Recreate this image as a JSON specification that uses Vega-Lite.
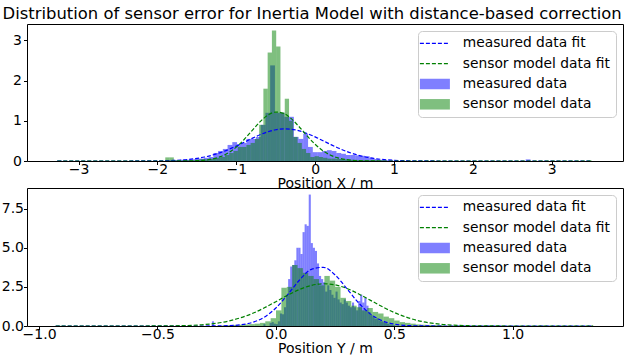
{
  "$schema": "https://vega.github.io/schema/vega-lite/v6.json",
  "padding": {"left": 0, "top": 6, "right": 5, "bottom": 0},
  "title": {"text": "Distribution of sensor error for Inertia Model with distance-based correction", "font": "DejaVu Sans", "fontSize": 16.4, "fontWeight": "normal", "color": "black", "anchor": "middle", "offset": 1},
  "config": {
    "font": "DejaVu Sans",
    "view": {"stroke": "black", "strokeWidth": 1, "fill": "white"},
    "axis": {"labelFont": "DejaVu Sans", "labelFontSize": 14, "labelColor": "black", "titleFont": "DejaVu Sans", "titleFontSize": 14, "titleFontWeight": "normal", "titleColor": "black", "tickColor": "black", "tickSize": 3.5, "grid": false, "domain": false, "labelFlush": false, "labelOverlap": false},
    "legend": {"orient": "top-right", "offset": 7, "title": null, "labelFont": "DejaVu Sans", "labelFontSize": 13.8, "labelColor": "black", "fillColor": "rgba(255,255,255,0.8)", "strokeColor": "#cccccc", "cornerRadius": 4, "padding": 5.5, "rowPadding": 5.3, "symbolSize": 100, "symbolOffset": 4.5, "labelOffset": 21, "labelLimit": 260, "symbolStrokeWidth": 1.3}
  },
  "datasets": {
    "topHist": [
      {"s": "measured data", "v": -3.24, "d": 0.01}, {"s": "measured data", "v": -1.86, "d": 0.02}, {"s": "measured data", "v": -1.8, "d": 0.02}, {"s": "measured data", "v": -1.74, "d": 0.02}, {"s": "measured data", "v": -1.68, "d": 0.03}, {"s": "measured data", "v": -1.62, "d": 0.03}, {"s": "measured data", "v": -1.56, "d": 0.04}, {"s": "measured data", "v": -1.5, "d": 0.05}, {"s": "measured data", "v": -1.44, "d": 0.06}, {"s": "measured data", "v": -1.38, "d": 0.08}, {"s": "measured data", "v": -1.32, "d": 0.1}, {"s": "measured data", "v": -1.26, "d": 0.2}, {"s": "measured data", "v": -1.2, "d": 0.25}, {"s": "measured data", "v": -1.14, "d": 0.3}, {"s": "measured data", "v": -1.08, "d": 0.4}, {"s": "measured data", "v": -1.02, "d": 0.47}, {"s": "measured data", "v": -0.96, "d": 0.42}, {"s": "measured data", "v": -0.9, "d": 0.45}, {"s": "measured data", "v": -0.84, "d": 0.55}, {"s": "measured data", "v": -0.78, "d": 0.55}, {"s": "measured data", "v": -0.72, "d": 0.6}, {"s": "measured data", "v": -0.66, "d": 0.9}, {"s": "measured data", "v": -0.6, "d": 1.2}, {"s": "measured data", "v": -0.54, "d": 2.38}, {"s": "measured data", "v": -0.48, "d": 1.2}, {"s": "measured data", "v": -0.42, "d": 1.2}, {"s": "measured data", "v": -0.36, "d": 1.1}, {"s": "measured data", "v": -0.3, "d": 1.1}, {"s": "measured data", "v": -0.24, "d": 0.6}, {"s": "measured data", "v": -0.18, "d": 0.55}, {"s": "measured data", "v": -0.12, "d": 0.68}, {"s": "measured data", "v": -0.06, "d": 0.35}, {"s": "measured data", "v": 0.0, "d": 0.22}, {"s": "measured data", "v": 0.06, "d": 0.22}, {"s": "measured data", "v": 0.12, "d": 0.25}, {"s": "measured data", "v": 0.18, "d": 0.27}, {"s": "measured data", "v": 0.24, "d": 0.25}, {"s": "measured data", "v": 0.3, "d": 0.2}, {"s": "measured data", "v": 0.36, "d": 0.18}, {"s": "measured data", "v": 0.42, "d": 0.15}, {"s": "measured data", "v": 0.48, "d": 0.15}, {"s": "measured data", "v": 0.54, "d": 0.14}, {"s": "measured data", "v": 0.6, "d": 0.13}, {"s": "measured data", "v": 0.66, "d": 0.12}, {"s": "measured data", "v": 0.72, "d": 0.08}, {"s": "measured data", "v": 0.78, "d": 0.05}, {"s": "measured data", "v": 0.84, "d": 0.03}, {"s": "measured data", "v": 0.9, "d": 0.02}, {"s": "measured data", "v": 0.96, "d": 0.02}, {"s": "measured data", "v": 2.7, "d": 0.04},
      {"s": "sensor model data", "v": -1.873, "d": 0.09}, {"s": "sensor model data", "v": -1.819, "d": 0.09}, {"s": "sensor model data", "v": -1.765, "d": 0.02}, {"s": "sensor model data", "v": -1.657, "d": 0.02}, {"s": "sensor model data", "v": -1.603, "d": 0.02}, {"s": "sensor model data", "v": -1.548, "d": 0.02}, {"s": "sensor model data", "v": -1.494, "d": 0.03}, {"s": "sensor model data", "v": -1.44, "d": 0.04}, {"s": "sensor model data", "v": -1.386, "d": 0.04}, {"s": "sensor model data", "v": -1.332, "d": 0.05}, {"s": "sensor model data", "v": -1.278, "d": 0.06}, {"s": "sensor model data", "v": -1.224, "d": 0.08}, {"s": "sensor model data", "v": -1.17, "d": 0.1}, {"s": "sensor model data", "v": -1.116, "d": 0.15}, {"s": "sensor model data", "v": -1.062, "d": 0.2}, {"s": "sensor model data", "v": -1.008, "d": 0.25}, {"s": "sensor model data", "v": -0.953, "d": 0.35}, {"s": "sensor model data", "v": -0.899, "d": 0.35}, {"s": "sensor model data", "v": -0.845, "d": 0.4}, {"s": "sensor model data", "v": -0.791, "d": 0.45}, {"s": "sensor model data", "v": -0.737, "d": 0.55}, {"s": "sensor model data", "v": -0.683, "d": 0.9}, {"s": "sensor model data", "v": -0.629, "d": 1.8}, {"s": "sensor model data", "v": -0.575, "d": 2.7}, {"s": "sensor model data", "v": -0.521, "d": 3.25}, {"s": "sensor model data", "v": -0.467, "d": 2.85}, {"s": "sensor model data", "v": -0.413, "d": 1.2}, {"s": "sensor model data", "v": -0.358, "d": 1.55}, {"s": "sensor model data", "v": -0.304, "d": 1.0}, {"s": "sensor model data", "v": -0.25, "d": 0.6}, {"s": "sensor model data", "v": -0.196, "d": 0.45}, {"s": "sensor model data", "v": -0.142, "d": 0.3}, {"s": "sensor model data", "v": -0.088, "d": 0.2}, {"s": "sensor model data", "v": -0.034, "d": 0.1}, {"s": "sensor model data", "v": 0.02, "d": 0.12}, {"s": "sensor model data", "v": 0.074, "d": 0.1}, {"s": "sensor model data", "v": 0.128, "d": 0.08}, {"s": "sensor model data", "v": 0.182, "d": 0.06}, {"s": "sensor model data", "v": 0.236, "d": 0.06}, {"s": "sensor model data", "v": 0.291, "d": 0.05}, {"s": "sensor model data", "v": 0.345, "d": 0.05}, {"s": "sensor model data", "v": 0.399, "d": 0.04}, {"s": "sensor model data", "v": 0.453, "d": 0.03}, {"s": "sensor model data", "v": 0.507, "d": 0.03}, {"s": "sensor model data", "v": 0.561, "d": 0.02}, {"s": "sensor model data", "v": 0.615, "d": 0.02}, {"s": "sensor model data", "v": 0.669, "d": 0.02}, {"s": "sensor model data", "v": 0.723, "d": 0.02}, {"s": "sensor model data", "v": 0.777, "d": 0.02}, {"s": "sensor model data", "v": 0.831, "d": 0.02}, {"s": "sensor model data", "v": 3.483, "d": 0.01}
    ],
    "topFit": [
      {"s": "measured data fit", "v": -3.27, "d": 0}, {"s": "measured data fit", "v": -2.5, "d": 0.0001}, {"s": "measured data fit", "v": -2.0, "d": 0.0042}, {"s": "measured data fit", "v": -1.8, "d": 0.0142}, {"s": "measured data fit", "v": -1.6, "d": 0.0407}, {"s": "measured data fit", "v": -1.4, "d": 0.0999}, {"s": "measured data fit", "v": -1.2, "d": 0.2085}, {"s": "measured data fit", "v": -1.0, "d": 0.3709}, {"s": "measured data fit", "v": -0.9, "d": 0.4658}, {"s": "measured data fit", "v": -0.8, "d": 0.5622}, {"s": "measured data fit", "v": -0.7, "d": 0.6518}, {"s": "measured data fit", "v": -0.6, "d": 0.7262}, {"s": "measured data fit", "v": -0.5, "d": 0.7773}, {"s": "measured data fit", "v": -0.4, "d": 0.7994}, {"s": "measured data fit", "v": -0.3, "d": 0.7898}, {"s": "measured data fit", "v": -0.2, "d": 0.7499}, {"s": "measured data fit", "v": -0.1, "d": 0.6839}, {"s": "measured data fit", "v": 0.0, "d": 0.5994}, {"s": "measured data fit", "v": 0.1, "d": 0.5047}, {"s": "measured data fit", "v": 0.2, "d": 0.4082}, {"s": "measured data fit", "v": 0.3, "d": 0.3173}, {"s": "measured data fit", "v": 0.4, "d": 0.237}, {"s": "measured data fit", "v": 0.5, "d": 0.17}, {"s": "measured data fit", "v": 0.6, "d": 0.1172}, {"s": "measured data fit", "v": 0.8, "d": 0.0494}, {"s": "measured data fit", "v": 1.0, "d": 0.0177}, {"s": "measured data fit", "v": 1.2, "d": 0.0054}, {"s": "measured data fit", "v": 1.5, "d": 0.0007}, {"s": "measured data fit", "v": 2.0, "d": 0}, {"s": "measured data fit", "v": 3.51, "d": 0},
      {"s": "sensor model data fit", "v": -3.27, "d": 0}, {"s": "sensor model data fit", "v": -2.0, "d": 0}, {"s": "sensor model data fit", "v": -1.8, "d": 0.0004}, {"s": "sensor model data fit", "v": -1.6, "d": 0.0035}, {"s": "sensor model data fit", "v": -1.4, "d": 0.0233}, {"s": "sensor model data fit", "v": -1.2, "d": 0.1081}, {"s": "sensor model data fit", "v": -1.1, "d": 0.2023}, {"s": "sensor model data fit", "v": -1.0, "d": 0.3447}, {"s": "sensor model data fit", "v": -0.9, "d": 0.5349}, {"s": "sensor model data fit", "v": -0.8, "d": 0.7559}, {"s": "sensor model data fit", "v": -0.7, "d": 0.973}, {"s": "sensor model data fit", "v": -0.6, "d": 1.1406}, {"s": "sensor model data fit", "v": -0.5, "d": 1.2177}, {"s": "sensor model data fit", "v": -0.4, "d": 1.184}, {"s": "sensor model data fit", "v": -0.3, "d": 1.0485}, {"s": "sensor model data fit", "v": -0.2, "d": 0.8457}, {"s": "sensor model data fit", "v": -0.1, "d": 0.6211}, {"s": "sensor model data fit", "v": 0.0, "d": 0.4155}, {"s": "sensor model data fit", "v": 0.1, "d": 0.2532}, {"s": "sensor model data fit", "v": 0.2, "d": 0.1404}, {"s": "sensor model data fit", "v": 0.3, "d": 0.071}, {"s": "sensor model data fit", "v": 0.4, "d": 0.0327}, {"s": "sensor model data fit", "v": 0.6, "d": 0.0052}, {"s": "sensor model data fit", "v": 0.8, "d": 0.0006}, {"s": "sensor model data fit", "v": 1.0, "d": 0}, {"s": "sensor model data fit", "v": 3.51, "d": 0}
    ],
    "botHist": [
      {"s": "measured data", "v": -0.2657, "d": 0.3}, {"s": "measured data", "v": -0.0482, "d": 0.12}, {"s": "measured data", "v": -0.0221, "d": 0.2}, {"s": "measured data", "v": -0.0134, "d": 0.25}, {"s": "measured data", "v": -0.0047, "d": 0.15}, {"s": "measured data", "v": 0.004, "d": 0.12}, {"s": "measured data", "v": 0.0127, "d": 0.3}, {"s": "measured data", "v": 0.0214, "d": 0.8}, {"s": "measured data", "v": 0.0301, "d": 0.75}, {"s": "measured data", "v": 0.0388, "d": 1.2}, {"s": "measured data", "v": 0.0475, "d": 2.0}, {"s": "measured data", "v": 0.0562, "d": 3.0}, {"s": "measured data", "v": 0.0649, "d": 3.8}, {"s": "measured data", "v": 0.0736, "d": 3.9}, {"s": "measured data", "v": 0.0823, "d": 4.2}, {"s": "measured data", "v": 0.091, "d": 5.0}, {"s": "measured data", "v": 0.0997, "d": 5.0}, {"s": "measured data", "v": 0.1084, "d": 4.6}, {"s": "measured data", "v": 0.1171, "d": 6.0}, {"s": "measured data", "v": 0.1258, "d": 6.5}, {"s": "measured data", "v": 0.1345, "d": 6.4}, {"s": "measured data", "v": 0.1432, "d": 8.4}, {"s": "measured data", "v": 0.1519, "d": 5.3}, {"s": "measured data", "v": 0.1606, "d": 5.0}, {"s": "measured data", "v": 0.1693, "d": 4.8}, {"s": "measured data", "v": 0.178, "d": 4.0}, {"s": "measured data", "v": 0.1867, "d": 3.2}, {"s": "measured data", "v": 0.1954, "d": 3.0}, {"s": "measured data", "v": 0.2041, "d": 2.8}, {"s": "measured data", "v": 0.2128, "d": 2.2}, {"s": "measured data", "v": 0.2215, "d": 2.6}, {"s": "measured data", "v": 0.2302, "d": 2.3}, {"s": "measured data", "v": 0.2389, "d": 2.0}, {"s": "measured data", "v": 0.2476, "d": 1.8}, {"s": "measured data", "v": 0.2563, "d": 2.2}, {"s": "measured data", "v": 0.265, "d": 1.7}, {"s": "measured data", "v": 0.2737, "d": 1.5}, {"s": "measured data", "v": 0.2824, "d": 1.4}, {"s": "measured data", "v": 0.2911, "d": 1.7}, {"s": "measured data", "v": 0.2998, "d": 1.5}, {"s": "measured data", "v": 0.3085, "d": 1.3}, {"s": "measured data", "v": 0.3172, "d": 1.2}, {"s": "measured data", "v": 0.3259, "d": 1.5}, {"s": "measured data", "v": 0.3346, "d": 1.2}, {"s": "measured data", "v": 0.3433, "d": 1.0}, {"s": "measured data", "v": 0.352, "d": 1.6}, {"s": "measured data", "v": 0.3607, "d": 2.0}, {"s": "measured data", "v": 0.3694, "d": 1.5}, {"s": "measured data", "v": 0.3781, "d": 1.8}, {"s": "measured data", "v": 0.3868, "d": 1.3}, {"s": "measured data", "v": 0.3955, "d": 0.9}, {"s": "measured data", "v": 0.4042, "d": 0.7}, {"s": "measured data", "v": 0.4129, "d": 0.6}, {"s": "measured data", "v": 0.4216, "d": 0.45}, {"s": "measured data", "v": 0.4303, "d": 0.5}, {"s": "measured data", "v": 0.439, "d": 0.35}, {"s": "measured data", "v": 0.4477, "d": 0.3}, {"s": "measured data", "v": 0.4564, "d": 0.25}, {"s": "measured data", "v": 0.4651, "d": 0.2}, {"s": "measured data", "v": 0.4738, "d": 0.15}, {"s": "measured data", "v": 0.4825, "d": 0.1}, {"s": "measured data", "v": 0.4912, "d": 0.08}, {"s": "measured data", "v": 0.4999, "d": 0.05}, {"s": "measured data", "v": 0.5608, "d": 0.03}, {"s": "measured data", "v": 0.5956, "d": 0.03},
      {"s": "sensor model data", "v": -0.9074, "d": 0.02}, {"s": "sensor model data", "v": -0.215, "d": 0.04}, {"s": "sensor model data", "v": -0.1923, "d": 0.05}, {"s": "sensor model data", "v": -0.1696, "d": 0.07}, {"s": "sensor model data", "v": -0.1469, "d": 0.08}, {"s": "sensor model data", "v": -0.1242, "d": 0.1}, {"s": "sensor model data", "v": -0.1015, "d": 0.12}, {"s": "sensor model data", "v": -0.0788, "d": 0.15}, {"s": "sensor model data", "v": -0.0561, "d": 0.2}, {"s": "sensor model data", "v": -0.0334, "d": 0.3}, {"s": "sensor model data", "v": -0.0107, "d": 0.5}, {"s": "sensor model data", "v": 0.012, "d": 1.0}, {"s": "sensor model data", "v": 0.0347, "d": 2.45}, {"s": "sensor model data", "v": 0.0574, "d": 2.5}, {"s": "sensor model data", "v": 0.0801, "d": 3.9}, {"s": "sensor model data", "v": 0.1028, "d": 3.7}, {"s": "sensor model data", "v": 0.1255, "d": 3.4}, {"s": "sensor model data", "v": 0.1482, "d": 3.2}, {"s": "sensor model data", "v": 0.1709, "d": 3.0}, {"s": "sensor model data", "v": 0.1936, "d": 2.6}, {"s": "sensor model data", "v": 0.2163, "d": 3.2}, {"s": "sensor model data", "v": 0.239, "d": 2.9}, {"s": "sensor model data", "v": 0.2617, "d": 2.5}, {"s": "sensor model data", "v": 0.2844, "d": 1.8}, {"s": "sensor model data", "v": 0.3071, "d": 1.6}, {"s": "sensor model data", "v": 0.3298, "d": 1.3}, {"s": "sensor model data", "v": 0.3525, "d": 1.2}, {"s": "sensor model data", "v": 0.3752, "d": 1.0}, {"s": "sensor model data", "v": 0.3979, "d": 1.15}, {"s": "sensor model data", "v": 0.4206, "d": 0.9}, {"s": "sensor model data", "v": 0.4433, "d": 0.8}, {"s": "sensor model data", "v": 0.466, "d": 0.6}, {"s": "sensor model data", "v": 0.4887, "d": 0.5}, {"s": "sensor model data", "v": 0.5114, "d": 0.35}, {"s": "sensor model data", "v": 0.5341, "d": 0.25}, {"s": "sensor model data", "v": 0.5568, "d": 0.2}, {"s": "sensor model data", "v": 0.5795, "d": 0.15}, {"s": "sensor model data", "v": 0.6022, "d": 0.1}, {"s": "sensor model data", "v": 0.6249, "d": 0.08}, {"s": "sensor model data", "v": 0.6476, "d": 0.07}, {"s": "sensor model data", "v": 0.6703, "d": 0.06}, {"s": "sensor model data", "v": 0.693, "d": 0.06}, {"s": "sensor model data", "v": 0.784, "d": 0.02}, {"s": "sensor model data", "v": 0.897, "d": 0.02}, {"s": "sensor model data", "v": 1.124, "d": 0.02}, {"s": "sensor model data", "v": 1.329, "d": 0.02}
    ],
    "botFit": [
      {"s": "measured data fit", "v": -0.93, "d": 0}, {"s": "measured data fit", "v": -0.4, "d": 0}, {"s": "measured data fit", "v": -0.3, "d": 0.0011}, {"s": "measured data fit", "v": -0.2, "d": 0.022}, {"s": "measured data fit", "v": -0.15, "d": 0.0767}, {"s": "measured data fit", "v": -0.1, "d": 0.2253}, {"s": "measured data fit", "v": -0.05, "d": 0.5557}, {"s": "measured data fit", "v": 0.0, "d": 1.1518}, {"s": "measured data fit", "v": 0.05, "d": 2.0076}, {"s": "measured data fit", "v": 0.1, "d": 2.9412}, {"s": "measured data fit", "v": 0.15, "d": 3.6228}, {"s": "measured data fit", "v": 0.2, "d": 3.7506}, {"s": "measured data fit", "v": 0.25, "d": 3.2644}, {"s": "measured data fit", "v": 0.3, "d": 2.3882}, {"s": "measured data fit", "v": 0.35, "d": 1.4689}, {"s": "measured data fit", "v": 0.4, "d": 0.7594}, {"s": "measured data fit", "v": 0.45, "d": 0.33}, {"s": "measured data fit", "v": 0.5, "d": 0.1206}, {"s": "measured data fit", "v": 0.55, "d": 0.037}, {"s": "measured data fit", "v": 0.6, "d": 0.0096}, {"s": "measured data fit", "v": 0.7, "d": 0.0004}, {"s": "measured data fit", "v": 0.8, "d": 0}, {"s": "measured data fit", "v": 1.34, "d": 0},
      {"s": "sensor model data fit", "v": -0.93, "d": 0}, {"s": "sensor model data fit", "v": -0.6, "d": 0.0005}, {"s": "sensor model data fit", "v": -0.5, "d": 0.0039}, {"s": "sensor model data fit", "v": -0.4, "d": 0.0219}, {"s": "sensor model data fit", "v": -0.3, "d": 0.0945}, {"s": "sensor model data fit", "v": -0.2, "d": 0.3123}, {"s": "sensor model data fit", "v": -0.1, "d": 0.7947}, {"s": "sensor model data fit", "v": 0.0, "d": 1.5539}, {"s": "sensor model data fit", "v": 0.05, "d": 1.9686}, {"s": "sensor model data fit", "v": 0.1, "d": 2.3356}, {"s": "sensor model data fit", "v": 0.15, "d": 2.5947}, {"s": "sensor model data fit", "v": 0.2, "d": 2.6997}, {"s": "sensor model data fit", "v": 0.25, "d": 2.629}, {"s": "sensor model data fit", "v": 0.3, "d": 2.3979}, {"s": "sensor model data fit", "v": 0.35, "d": 2.0476}, {"s": "sensor model data fit", "v": 0.4, "d": 1.6376}, {"s": "sensor model data fit", "v": 0.5, "d": 0.8599}, {"s": "sensor model data fit", "v": 0.6, "d": 0.347}, {"s": "sensor model data fit", "v": 0.7, "d": 0.1077}, {"s": "sensor model data fit", "v": 0.8, "d": 0.0257}, {"s": "sensor model data fit", "v": 0.9, "d": 0.0047}, {"s": "sensor model data fit", "v": 1.0, "d": 0.0007}, {"s": "sensor model data fit", "v": 1.34, "d": 0}
    ]
  },
  "bounds": "flush",
  "spacing": 27,
  "resolve": {"scale": {"x": "independent", "y": "independent", "color": "independent"}, "legend": {"color": "independent"}},
  "vconcat": [
    {
      "width": 596,
      "height": 137,
      "encoding": {
        "x": {"field": "v", "type": "quantitative", "scale": {"domain": [-3.59, 3.84], "nice": false, "zero": false}, "axis": {"title": "Position X / m", "values": [-3, -2, -1, 0, 1, 2, 3], "format": "d", "labelPadding": -2, "titlePadding": 0}},
        "y": {"field": "d", "type": "quantitative", "scale": {"domain": [0, 3.41], "nice": false}, "axis": {"title": null, "values": [0, 1, 2, 3], "format": "d", "labelPadding": 2}},
        "color": {"field": "s", "type": "nominal", "scale": {"domain": ["measured data fit", "sensor model data fit", "measured data", "sensor model data"], "range": ["#0000ff", "#008000", "#0000ff", "#008000"]},
          "legend": {"symbolType": "square", "encode": {"symbols": {"update": {
            "shape": {"signal": "indexof(datum.value, 'fit') >= 0 ? 'M-3,0H3' : 'M-3,-1.05H3V1.05H-3Z'"},
            "fill": {"signal": "indexof(datum.value, 'fit') >= 0 ? 'transparent' : (indexof(datum.value, 'measured') >= 0 ? '#0000ff' : '#008000')"},
            "fillOpacity": {"signal": "indexof(datum.value, 'fit') >= 0 ? 0 : 0.5"},
            "stroke": {"signal": "indexof(datum.value, 'measured') >= 0 ? '#0000ff' : '#008000'"},
            "strokeOpacity": {"signal": "indexof(datum.value, 'fit') >= 0 ? 1 : 0"},
            "strokeDash": {"signal": "indexof(datum.value, 'fit') >= 0 ? [4, 2] : [1, 0]"},
            "opacity": {"value": 1}
          }}}}}
      },
      "layer": [
        {
          "data": {"name": "topHist"},
          "transform": [{"filter": "datum.s === 'measured data'"}],
          "mark": {"type": "bar", "orient": "vertical", "size": 4.8, "opacity": 0.5, "strokeWidth": 0, "clip": true}
        },
        {
          "data": {"name": "topHist"},
          "transform": [{"filter": "datum.s === 'sensor model data'"}],
          "mark": {"type": "bar", "orient": "vertical", "size": 4.3, "opacity": 0.5, "strokeWidth": 0, "clip": true}
        },
        {
          "data": {"name": "topFit"},
          "mark": {"type": "line", "strokeDash": [4, 2], "strokeWidth": 1.2, "interpolate": "monotone", "clip": true}
        }
      ]
    },
    {
      "width": 596,
      "height": 138,
      "encoding": {
        "x": {"field": "v", "type": "quantitative", "scale": {"domain": [-1.03, 1.445], "nice": false, "zero": false}, "axis": {"title": "Position Y / m", "values": [-1, -0.5, 0, 0.5, 1], "format": ".1f", "labelPadding": -2, "titlePadding": 0}},
        "y": {"field": "d", "type": "quantitative", "scale": {"domain": [0, 8.82], "nice": false}, "axis": {"title": null, "values": [0, 2.5, 5, 7.5], "format": ".1f", "labelPadding": 0}},
        "color": {"field": "s", "type": "nominal", "scale": {"domain": ["measured data fit", "sensor model data fit", "measured data", "sensor model data"], "range": ["#0000ff", "#008000", "#0000ff", "#008000"]},
          "legend": {"symbolType": "square", "encode": {"symbols": {"update": {
            "shape": {"signal": "indexof(datum.value, 'fit') >= 0 ? 'M-3,0H3' : 'M-3,-1.05H3V1.05H-3Z'"},
            "fill": {"signal": "indexof(datum.value, 'fit') >= 0 ? 'transparent' : (indexof(datum.value, 'measured') >= 0 ? '#0000ff' : '#008000')"},
            "fillOpacity": {"signal": "indexof(datum.value, 'fit') >= 0 ? 0 : 0.5"},
            "stroke": {"signal": "indexof(datum.value, 'measured') >= 0 ? '#0000ff' : '#008000'"},
            "strokeOpacity": {"signal": "indexof(datum.value, 'fit') >= 0 ? 1 : 0"},
            "strokeDash": {"signal": "indexof(datum.value, 'fit') >= 0 ? [4, 2] : [1, 0]"},
            "opacity": {"value": 1}
          }}}}}
      },
      "layer": [
        {
          "data": {"name": "botHist"},
          "transform": [{"filter": "datum.s === 'measured data'"}],
          "mark": {"type": "bar", "orient": "vertical", "size": 2.1, "opacity": 0.5, "strokeWidth": 0, "clip": true}
        },
        {
          "data": {"name": "botHist"},
          "transform": [{"filter": "datum.s === 'sensor model data'"}],
          "mark": {"type": "bar", "orient": "vertical", "size": 5.4, "opacity": 0.5, "strokeWidth": 0, "clip": true}
        },
        {
          "data": {"name": "botFit"},
          "mark": {"type": "line", "strokeDash": [4, 2], "strokeWidth": 1.2, "interpolate": "monotone", "clip": true}
        }
      ]
    }
  ]
}
